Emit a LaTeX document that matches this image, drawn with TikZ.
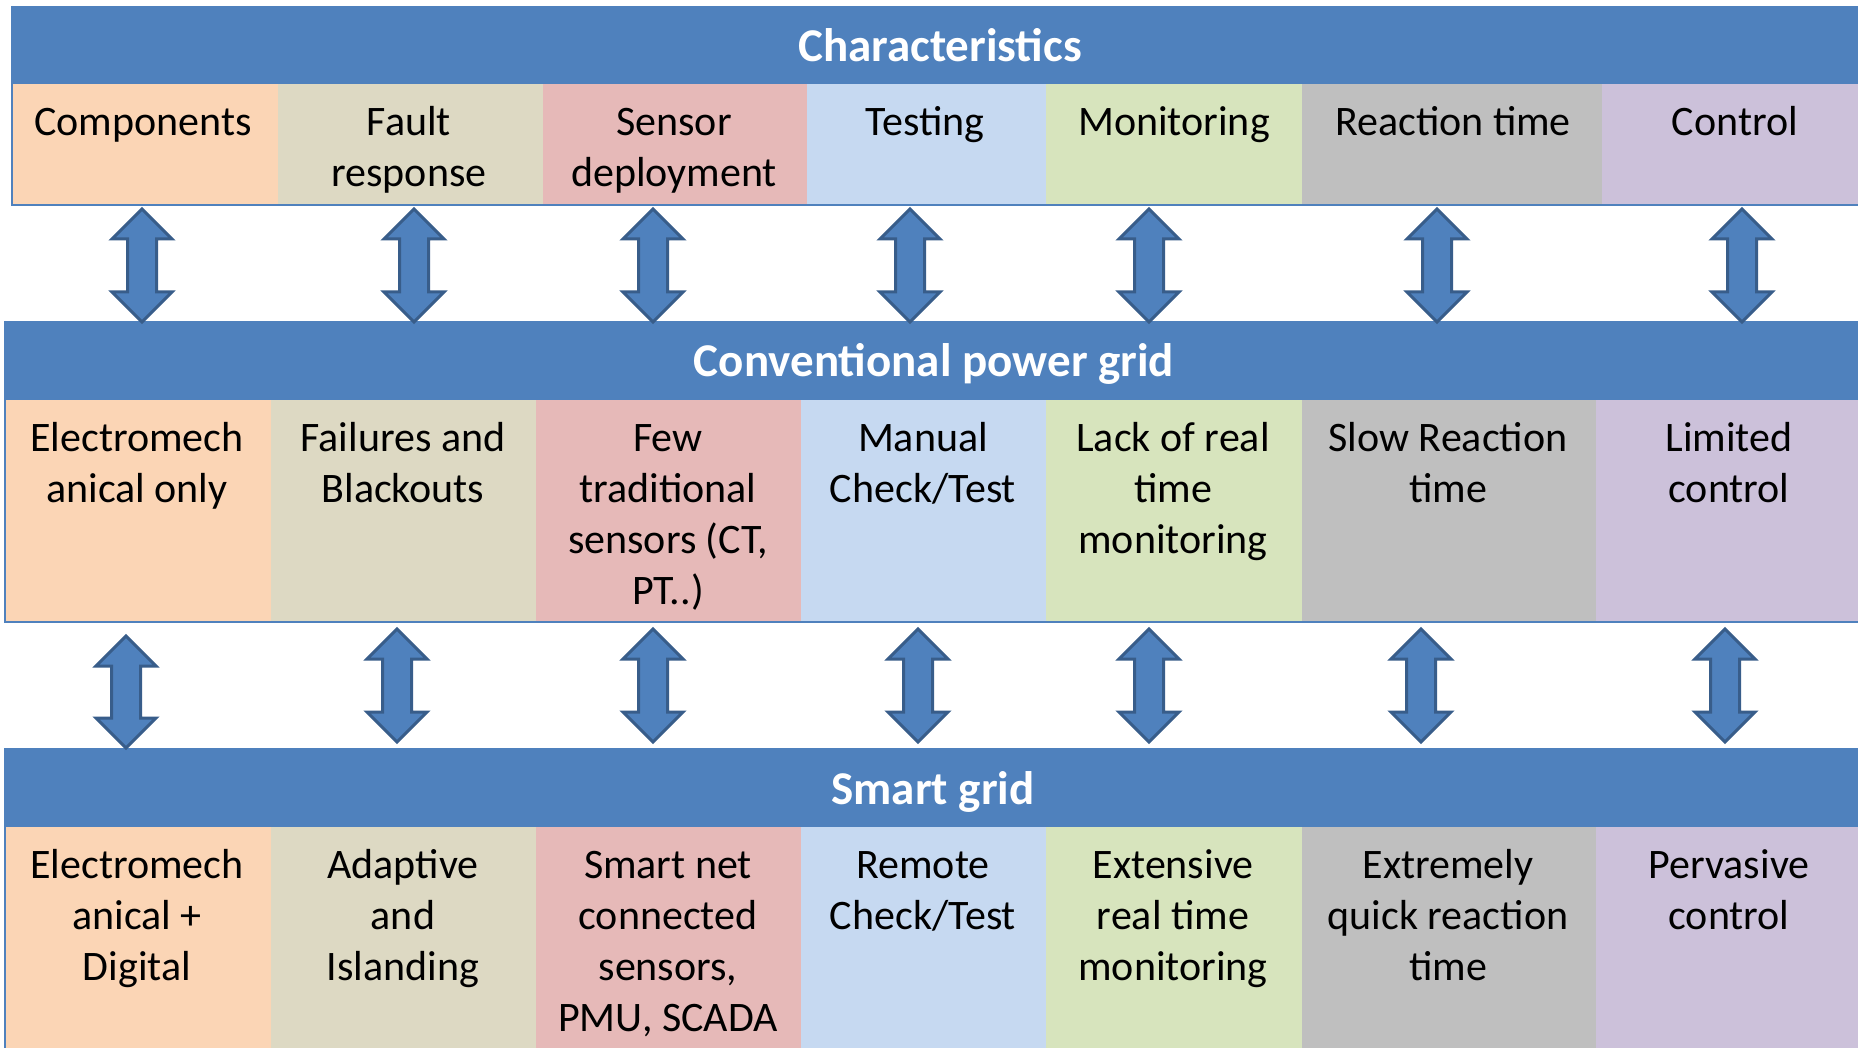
\documentclass[tikz,border=0pt]{standalone}
\usepackage{fontspec}
\setmainfont{Carlito}
\usetikzlibrary{calc}
\definecolor{hdr}{HTML}{4F81BD}
\definecolor{arrline}{HTML}{385D8A}
\definecolor{cA}{HTML}{FBD5B5}
\definecolor{cB}{HTML}{DDD9C3}
\definecolor{cC}{HTML}{E6B9B8}
\definecolor{cD}{HTML}{C6D9F1}
\definecolor{cE}{HTML}{D7E4BD}
\definecolor{cF}{HTML}{BFBFBF}
\definecolor{cG}{HTML}{CCC1DA}
\newcommand\dbarrow[2]{%
\draw[blockarr] (#1) -- ($(#1)+(30,30)$) -- ($(#1)+(14.5,30)$) -- ($(#2)+(14.5,-30)$) -- ($(#2)+(30,-30)$) -- (#2) -- ($(#2)+(-30,-30)$) -- ($(#2)+(-14.5,-30)$) -- ($(#1)+(-14.5,30)$) -- ($(#1)+(-30,30)$) -- cycle;}
\begin{document}
\begin{tikzpicture}[x=1pt,y=-1pt,
  celltext/.style={anchor=base,align=center,inner sep=0pt,font=\fontsize{42}{51}\selectfont},
  hdrtext/.style={anchor=base,inner sep=0pt,text=white,font=\fontsize{47}{56}\selectfont\bfseries},
  blockarr/.style={fill=hdr,draw=arrline,line width=3pt},
  tborder/.style={draw=hdr,line width=2pt}]
\useasboundingbox (0,0) rectangle (1858,1048);
\fill[white] (0,0) rectangle (1858,1048);
% ---------- Table 1 ----------
\fill[hdr] (12,6) rectangle (1858,84);
\fill[cA] (12,84) rectangle (278,205);
\fill[cB] (278,84) rectangle (543,205);
\fill[cC] (543,84) rectangle (807,205);
\fill[cD] (807,84) rectangle (1046,205);
\fill[cE] (1046,84) rectangle (1302,205);
\fill[cF] (1302,84) rectangle (1602,205);
\fill[cG] (1602,84) rectangle (1858,205);
\draw[tborder] (12,6) -- (12,205) -- (1858,205);
\node[hdrtext] (h1) at (940,62) {Characteristics};
% anchor=base is the baseline of the LAST line: first baseline + (lines-1)*51
\node[celltext] (t11) at (143,136) {Components};
\node[celltext] (t12) at (409,187) {Fault\\response};
\node[celltext] (t13) at (674,187) {Sensor\\deployment};
\node[celltext] (t14) at (925,136) {Testing};
\node[celltext] (t15) at (1174,136) {Monitoring};
\node[celltext] (t16) at (1453,136) {Reaction time};
\node[celltext] (t17) at (1735,136) {Control};
% ---------- Table 2 ----------
\fill[hdr] (5,321) rectangle (1858,400);
\fill[cA] (5,400) rectangle (271,622);
\fill[cB] (271,400) rectangle (536,622);
\fill[cC] (536,400) rectangle (801,622);
\fill[cD] (801,400) rectangle (1046,622);
\fill[cE] (1046,400) rectangle (1302,622);
\fill[cF] (1302,400) rectangle (1596,622);
\fill[cG] (1596,400) rectangle (1858,622);
\draw[tborder] (5,321) -- (5,622) -- (1858,622);
\node[hdrtext] (h2) at (934,377) {Conventional power grid};
\node[celltext] (t21) at (137,502) {Electromech\\anical only};
\node[celltext] (t22) at (403,502) {Failures and\\Blackouts};
\node[celltext] (t23) at (668,604) {Few\\traditional\\sensors (CT,\\PT..)};
\node[celltext] (t24) at (923,502) {Manual\\Check/Test};
\node[celltext] (t25) at (1173,553) {Lack of real\\time\\monitoring};
\node[celltext] (t26) at (1448,502) {Slow Reaction\\time};
\node[celltext] (t27) at (1729,502) {Limited\\control};
% ---------- Table 3 ----------
\fill[hdr] (5,748) rectangle (1858,827);
\fill[cA] (5,827) rectangle (271,1048);
\fill[cB] (271,827) rectangle (536,1048);
\fill[cC] (536,827) rectangle (801,1048);
\fill[cD] (801,827) rectangle (1046,1048);
\fill[cE] (1046,827) rectangle (1302,1048);
\fill[cF] (1302,827) rectangle (1596,1048);
\fill[cG] (1596,827) rectangle (1858,1048);
\draw[tborder] (5,748) -- (5,1048);
\node[hdrtext] (h3) at (933,804) {Smart grid};
\node[celltext] (t31) at (137,980) {Electromech\\anical +\\Digital};
\node[celltext] (t32) at (403,980) {Adaptive\\and\\Islanding};
\node[celltext] (t33) at (668,1031) {Smart net\\connected\\sensors,\\PMU, SCADA};
\node[celltext] (t34) at (923,929) {Remote\\Check/Test};
\node[celltext] (t35) at (1173,980) {Extensive\\real time\\monitoring};
\node[celltext] (t36) at (1448,980) {Extremely\\quick reaction\\time};
\node[celltext] (t37) at (1729,929) {Pervasive\\control};
% ---------- arrows row 1 ----------
\foreach \n/\x in {1/142,2/414,3/653,4/910,5/1149,6/1437,7/1742}{
  \coordinate (ua\n) at (\x,209);
  \coordinate (da\n) at (\x,322);
  \dbarrow{ua\n}{da\n}
}
% ---------- arrows row 2 ----------
\coordinate (ub1) at (126,636);
\coordinate (db1) at (126,748);
\dbarrow{ub1}{db1}
\foreach \n/\x in {2/397,3/653,4/918,5/1149,6/1421,7/1725}{
  \coordinate (ub\n) at (\x,629);
  \coordinate (db\n) at (\x,742);
  \dbarrow{ub\n}{db\n}
}
\end{tikzpicture}
\end{document}
